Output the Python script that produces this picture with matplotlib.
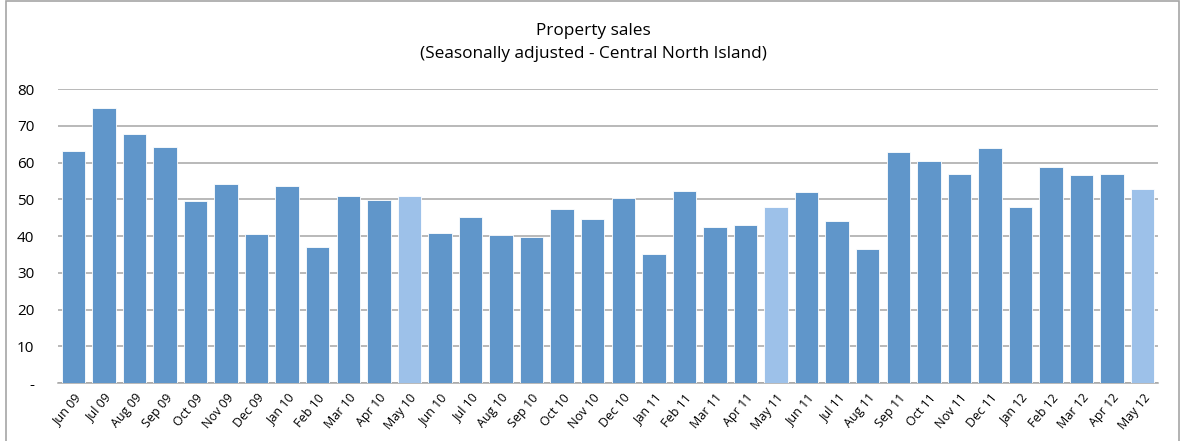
import matplotlib.pyplot as plt
import matplotlib.patches as mpatches
import numpy as np

plt.rcParams['font.family'] = ['Open Sans', 'DejaVu Sans']

months = ["Jun 09", "Jul 09", "Aug 09", "Sep 09", "Oct 09", "Nov 09", "Dec 09",
          "Jan 10", "Feb 10", "Mar 10", "Apr 10", "May 10", "Jun 10", "Jul 10",
          "Aug 10", "Sep 10", "Oct 10", "Nov 10", "Dec 10", "Jan 11", "Feb 11",
          "Mar 11", "Apr 11", "May 11", "Jun 11", "Jul 11", "Aug 11", "Sep 11",
          "Oct 11", "Nov 11", "Dec 11", "Jan 12", "Feb 12", "Mar 12", "Apr 12",
          "May 12"]
sales = [63.0, 74.7, 67.8, 64.1, 49.6, 54.1, 40.6, 53.7, 37.1, 50.8, 49.7, 50.8,
         40.9, 45.2, 40.4, 39.8, 47.3, 44.5, 50.3, 35.1, 52.2, 42.4, 43.0, 47.8,
         52.0, 44.2, 36.4, 62.8, 60.5, 57.0, 63.9, 47.9, 58.9, 56.5, 57.0, 52.7]
highlight = ["May 10", "May 11", "May 12"]
yticks = [0, 10, 20, 30, 40, 50, 60, 70, 80]
ylabels = ["-", "10", "20", "30", "40", "50", "60", "70", "80"]

dark = "#6096CA"
light = "#9DC1E9"
colors = [light if m in highlight else dark for m in months]

fig = plt.figure(figsize=(11.86, 4.41), dpi=100)
fig.patches.append(mpatches.Rectangle((6 / 1186, -0.1), 1173 / 1186, 1.098,
                                      transform=fig.transFigure, fill=False,
                                      edgecolor="#A6A6A6", linewidth=1.2))
ax = fig.add_axes([58 / 1186, 1 - 383 / 441, 1100 / 1186, 294 / 441])

x = np.arange(len(months))
ax.bar(x, sales, width=0.77, color=colors, edgecolor="white", linewidth=0.6, zorder=3)

ax.set_xlim(-0.5, len(months) - 0.5)
ax.set_ylim(0, 80)
ax.set_yticks(yticks)
ax.set_yticklabels(ylabels, fontsize=11)
ax.set_xticks(x)
ax.set_xticklabels(months, rotation=50, ha="right", rotation_mode="anchor", fontsize=9)
ax.tick_params(axis="both", length=0)
ax.tick_params(axis="y", pad=17)
ax.tick_params(axis="x", pad=6)
ax.yaxis.grid(True, color="#A6A6A6", linewidth=1.1, zorder=0)
for s in ["top", "right", "left"]:
    ax.spines[s].set_visible(False)
ax.spines["bottom"].set_color("#A6A6A6")
ax.spines["bottom"].set_linewidth(1.1)

fig.text(0.5, 1 - 31 / 441, "Property sales", ha="center", va="center", fontsize=12.4)
fig.text(0.5, 1 - 54 / 441, "(Seasonally adjusted - Central North Island)",
         ha="center", va="center", fontsize=12.4)

fig.savefig("out.png", dpi=100)
